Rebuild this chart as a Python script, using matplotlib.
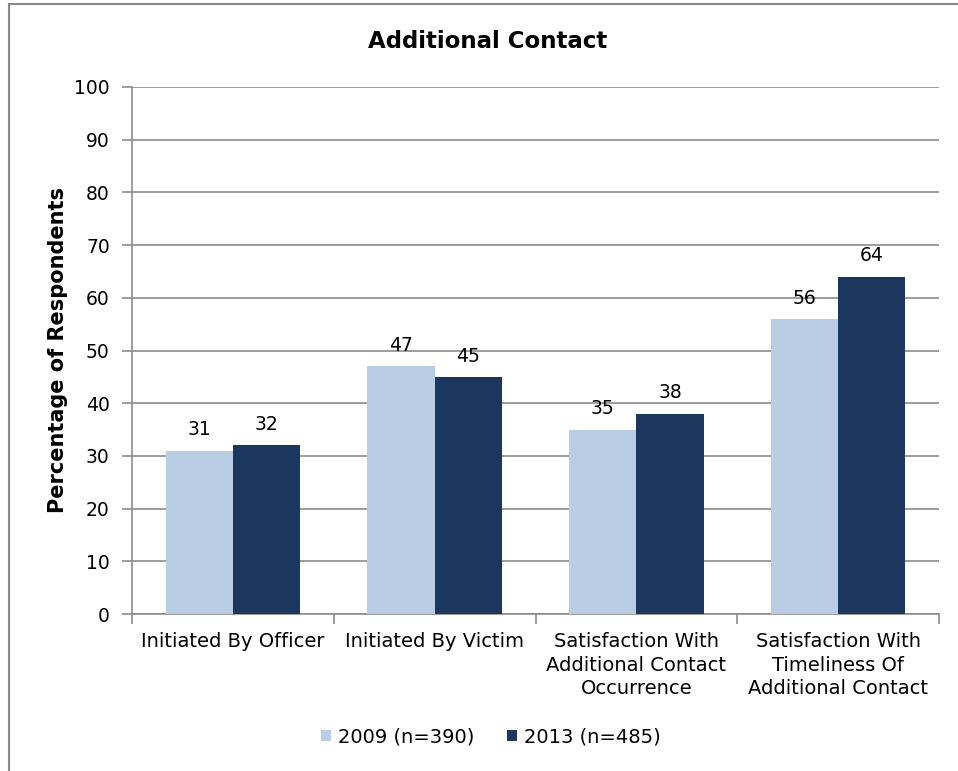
import numpy as np
import matplotlib.pyplot as plt
from matplotlib.patches import Rectangle

categories = ['Initiated By Officer', 'Initiated By Victim',
              'Satisfaction With\nAdditional Contact\nOccurrence',
              'Satisfaction With\nTimeliness Of\nAdditional Contact']
series_names = ['2009 (n=390)', '2013 (n=485)']
values_2009 = [31, 47, 35, 56]
values_2013 = [32, 45, 38, 64]
colors = ['#B9CDE5', '#1B375E']

W, H = 958, 771
fig = plt.figure(figsize=(W / 100, H / 100), dpi=100)
plt.rcParams['font.family'] = 'DejaVu Sans'

# outer chart border (left and top edges visible)
fig.patches.append(Rectangle((8.5 / W, -0.1), 1.1, 1.1 - 4.5 / H, transform=fig.transFigure,
                             fill=False, edgecolor='#888888', linewidth=1.5))

ax = fig.add_axes([132 / W, 1 - 614 / H, (939 - 132) / W, (614 - 87) / H])

x = np.arange(len(categories))
bw = 1 / 3
for i, (vals, name) in enumerate(zip([values_2009, values_2013], series_names)):
    pos = x + (i - 0.5) * bw
    bars = ax.bar(pos, vals, width=bw, color=colors[i], label=name, zorder=3)
    for b, v in zip(bars, vals):
        ax.annotate(f'{v}', (b.get_x() + b.get_width() / 2, v), xytext=(0, 11),
                    textcoords='offset points', ha='center', va='baseline',
                    fontsize=13.5, zorder=4)

ax.set_xlim(-0.5, len(categories) - 0.5)
ax.set_ylim(0, 100)
ax.set_yticks(range(0, 101, 10))
ax.yaxis.grid(True, color='#8C8C8C', linewidth=1.2, zorder=0)
ax.set_axisbelow(True)

for side in ['top', 'right']:
    ax.spines[side].set_visible(False)
for side in ['left', 'bottom']:
    ax.spines[side].set_color('#8C8C8C')
    ax.spines[side].set_linewidth(1.2)

ax.set_xticks(np.arange(-0.5, len(categories), 1.0))
ax.set_xticklabels([])
ax.set_xticks(x, minor=True)
ax.set_xticklabels(categories, minor=True, fontsize=14, linespacing=1.3)
ax.tick_params(axis='x', which='major', length=7, color='#8C8C8C', width=1.2, direction='out')
ax.tick_params(axis='x', which='minor', length=0, pad=13)
ax.tick_params(axis='y', length=7, color='#8C8C8C', width=1.2, labelsize=13.5, pad=9)

fig.text(58 / W, 1 - 350 / H, 'Percentage of Respondents', rotation=90, ha='center',
         va='center', fontsize=15, fontweight='bold')
fig.text(488 / W, 1 - 41 / H, 'Additional Contact', ha='center', va='center',
         fontsize=16.5, fontweight='bold')

fig.legend(loc='center', bbox_to_anchor=(491 / W, 1 - 737 / H), ncol=2, frameon=False,
           fontsize=14, handlelength=0.52, handleheight=0.52, handletextpad=0.35,
           columnspacing=1.7, borderpad=0)

fig.savefig('out.png', dpi=100)
